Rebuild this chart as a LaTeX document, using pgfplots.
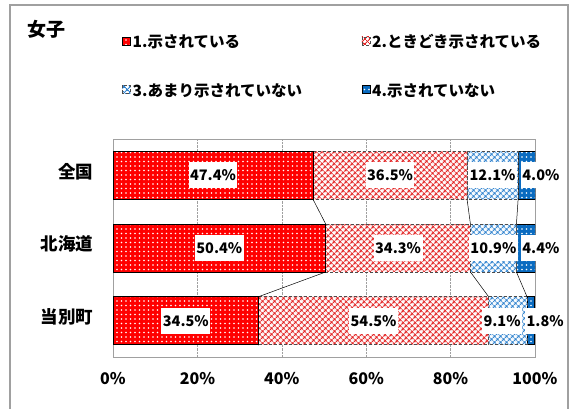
\documentclass[border=0pt]{standalone}
\usepackage{fontspec}
\setmainfont{Noto Sans CJK JP}
\usepackage{pgfplots}
\pgfplotsset{compat=1.18}
\usetikzlibrary{patterns.meta}

\definecolor{sOne}{HTML}{FF0000}
\definecolor{sTwo}{HTML}{E32626}
\definecolor{sThree}{HTML}{3586D0}
\definecolor{sFour}{HTML}{0A6BC0}
\definecolor{frameGray}{HTML}{A0A0A0}

\tikzset{
  sOneStyle/.style={fill=sOne, draw=black, line width=0.5pt,
    postaction={pattern={Dots[distance=4.5pt, radius=0.8pt]}, pattern color=white}},
  sTwoStyle/.style={fill=white, draw=black!70, line width=0.5pt, densely dashed,
    postaction={pattern={Hatch[angle=45, distance=4pt, line width=1.15pt]}, pattern color=sTwo}},
  sThreeStyle/.style={fill=white, draw=black!70, line width=0.5pt, densely dashed,
    postaction={pattern={Hatch[angle=45, distance=4pt, line width=1.15pt]}, pattern color=sThree}},
  sFourStyle/.style={fill=sFour, draw=black, line width=0.5pt,
    postaction={pattern={Dots[distance=4.5pt, radius=0.8pt]}, pattern color=white}},
}

\begin{document}
\begin{tikzpicture}
\path[use as bounding box] (0pt,0pt) rectangle (573pt,409pt);
% outer frame
\draw[frameGray, line width=1.2pt] (10pt,-5pt) -- (10pt,404pt) -- (568pt,404pt) -- (568pt,-5pt);
% title
\node[anchor=west, font=\fontsize{19}{19}\selectfont\bfseries, inner sep=0pt] at (27pt,379.5pt) {女子};

\begin{axis}[
  at={(113pt,52pt)}, anchor=south west,
  scale only axis, width=422pt, height=218pt,
  xbar stacked, bar width=0.66,
  xmin=0, xmax=100, ymin=-0.5, ymax=2.5, y dir=reverse,
  ytick={0,1,2}, yticklabels={全国,北海道,当別町},
  major tick length=0pt,
  extra y ticks={-0.5,0.5,1.5,2.5}, extra y tick labels={},
  extra y tick style={major tick length=6pt, tick align=outside, ytick pos=left,
    tick style={draw=frameGray, line width=0.6pt}},
  xtick={0,20,40,60,80,100},
  xticklabels={0\%,20\%,40\%,60\%,80\%,100\%},
  xmajorgrids, grid style={gray!75, densely dotted, line width=0.6pt},
  axis line style={draw=frameGray, line width=0.8pt},
  xtick style={draw=none}, ytick style={draw=none},
  xticklabel style={font=\fontsize{16}{16}\selectfont\bfseries, yshift=-12pt},
  yticklabel style={font=\fontsize{17.5}{17.5}\selectfont\bfseries, xshift=-16pt, yshift=4pt},
  legend columns=2,
  legend image code/.code={\path[#1] (0pt,-1pt) rectangle (8pt,7pt);},
  legend style={at={(axis description cs:0.0213,1.47)}, anchor=north west,
    draw=none, fill=none, inner sep=0pt, row sep=34pt,
    font=\fontsize{15.5}{15.5}\selectfont\bfseries,
    /tikz/every odd column/.append style={column sep=2pt},
    nodes={text width=229pt, align=left, inner sep=0pt, text height=11pt, text depth=3pt}},
]
\addplot[sOneStyle] coordinates {(47.4,0) (50.4,1) (34.5,2)};
\addlegendentry{1.示されている}
\addplot[sTwoStyle] coordinates {(36.5,0) (34.3,1) (54.5,2)};
\addlegendentry{2.ときどき示されている}
\addplot[sThreeStyle] coordinates {(12.1,0) (10.9,1) (9.1,2)};
\addlegendentry{3.あまり示されていない}
\addplot[sFourStyle] coordinates {(4.0,0) (4.4,1) (1.8,2)};
\addlegendentry{4.示されていない}
\end{axis}

% series lines and value labels
\begin{axis}[
  at={(113pt,52pt)}, anchor=south west,
  scale only axis, width=422pt, height=218pt,
  xmin=0, xmax=100, ymin=-0.5, ymax=2.5, y dir=reverse,
  hide axis, clip=false,
]
\addplot[black, line width=0.5pt] coordinates {(47.4,0.33) (50.4,0.67)};
\addplot[black, line width=0.5pt] coordinates {(83.9,0.33) (84.7,0.67)};
\addplot[black, line width=0.5pt] coordinates {(96.0,0.33) (95.6,0.67)};
\addplot[black, line width=0.5pt] coordinates {(50.4,1.33) (34.5,1.67)};
\addplot[black, line width=0.5pt] coordinates {(84.7,1.33) (89.0,1.67)};
\addplot[black, line width=0.5pt] coordinates {(95.6,1.33) (98.1,1.67)};
\addplot[draw=none, mark=none, point meta=explicit,
  nodes near coords={\pgfmathprintnumber[fixed, fixed zerofill, precision=1, assume math mode=true]{\pgfplotspointmeta}\%},
  every node near coord/.append style={anchor=center, fill=white, inner xsep=1.5pt,
    inner ysep=0pt, minimum height=26pt, text=black,
    font=\fontsize{14.5}{14.5}\selectfont\bfseries},
] table[x=x, y=y, meta=v] {
x y v
23.7 0 47.4
65.65 0 36.5
89.95 0 12.1
101.4 0 4.0
25.2 1 50.4
67.55 1 34.3
90.15 1 10.9
101.4 1 4.4
17.25 2 34.5
61.75 2 54.5
92.2 2 9.1
102.4 2 1.8
};
\end{axis}
\end{tikzpicture}
\end{document}
